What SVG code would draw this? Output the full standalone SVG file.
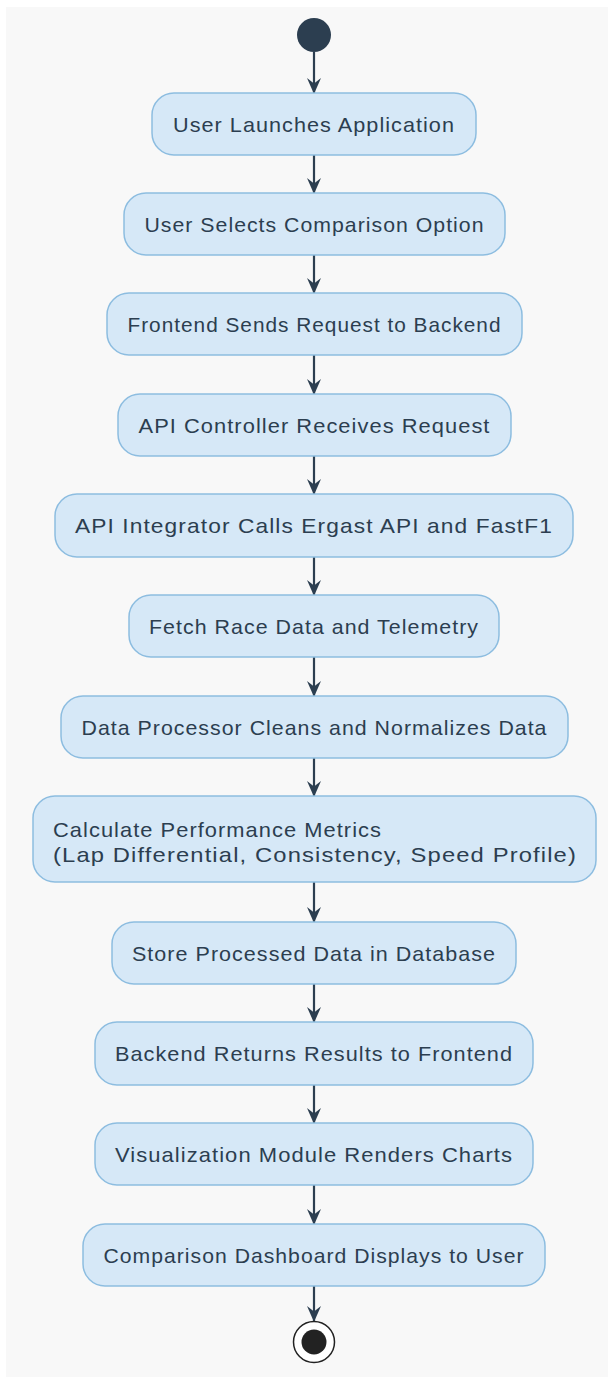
<svg xmlns="http://www.w3.org/2000/svg" width="615" height="1378" viewBox="0 0 615 1378">
  <style>
    .panel { fill: #f8f8f8; }
    .act rect { fill: #d6e8f7; stroke: #8dbde0; stroke-width: 1.5; }
    .act text { font-family: "Liberation Sans", Arial, sans-serif; font-size: 21px; letter-spacing: 1px; fill: #2c3e50; text-anchor: middle; }
    .act text.left { text-anchor: start; }
    .edge { stroke: #2c3e50; stroke-width: 2.2; fill: none; marker-end: url(#arrow); }
  </style>
  <defs>
    <!-- barbed arrowhead, drawn pointing along +x so orient="auto" turns it with the line -->
    <marker id="arrow" viewBox="0 0 16 14" refX="15" refY="7" markerWidth="16" markerHeight="14" markerUnits="userSpaceOnUse" orient="auto">
      <path d="M0,0 L5.5,7 L0,14 L16,7 Z" fill="#2c3e50"/>
    </marker>
  </defs>

  <rect class="panel" x="6" y="7" width="602" height="1370"/>

  <!-- flow connectors -->
  <g id="connectors">
    <line class="edge" x1="314" y1="52" x2="314" y2="93"/>
    <line class="edge" x1="314" y1="155" x2="314" y2="193"/>
    <line class="edge" x1="314" y1="255" x2="314" y2="293"/>
    <line class="edge" x1="314" y1="355" x2="314" y2="394"/>
    <line class="edge" x1="314" y1="456" x2="314" y2="494"/>
    <line class="edge" x1="314" y1="557" x2="314" y2="595"/>
    <line class="edge" x1="314" y1="657" x2="314" y2="696"/>
    <line class="edge" x1="314" y1="758" x2="314" y2="796"/>
    <line class="edge" x1="314" y1="882" x2="314" y2="922"/>
    <line class="edge" x1="314" y1="984" x2="314" y2="1022"/>
    <line class="edge" x1="314" y1="1085" x2="314" y2="1123"/>
    <line class="edge" x1="314" y1="1185" x2="314" y2="1224"/>
    <line class="edge" x1="314" y1="1286" x2="314" y2="1321"/>
  </g>

  <g id="start">
    <circle cx="314" cy="35" r="17" fill="#2c3e50"/>
  </g>

  <g id="n1" class="act">
    <rect x="152" y="93" width="324" height="62" rx="22"/>
    <text x="314" y="132" textLength="282" lengthAdjust="spacingAndGlyphs">User Launches Application</text>
  </g>
  <g id="n2" class="act">
    <rect x="124" y="193" width="381" height="62" rx="22"/>
    <text x="314.5" y="232" textLength="340" lengthAdjust="spacingAndGlyphs">User Selects Comparison Option</text>
  </g>
  <g id="n3" class="act">
    <rect x="107" y="293" width="415" height="62" rx="22"/>
    <text x="314.5" y="332" textLength="374" lengthAdjust="spacingAndGlyphs">Frontend Sends Request to Backend</text>
  </g>
  <g id="n4" class="act">
    <rect x="118" y="394" width="393" height="62" rx="22"/>
    <text x="314.5" y="433" textLength="352" lengthAdjust="spacingAndGlyphs">API Controller Receives Request</text>
  </g>
  <g id="n5" class="act">
    <rect x="55" y="494" width="518" height="63" rx="22"/>
    <text x="314" y="533" textLength="478" lengthAdjust="spacingAndGlyphs">API Integrator Calls Ergast API and FastF1</text>
  </g>
  <g id="n6" class="act">
    <rect x="129" y="595" width="370" height="62" rx="22"/>
    <text x="314" y="634" textLength="330" lengthAdjust="spacingAndGlyphs">Fetch Race Data and Telemetry</text>
  </g>
  <g id="n7" class="act">
    <rect x="61" y="696" width="507" height="62" rx="22"/>
    <text x="314.5" y="735" textLength="466" lengthAdjust="spacingAndGlyphs">Data Processor Cleans and Normalizes Data</text>
  </g>
  <g id="n8" class="act">
    <rect x="33" y="796" width="563" height="86" rx="22"/>
    <text class="left" x="53" y="837" textLength="329" lengthAdjust="spacingAndGlyphs">Calculate Performance Metrics</text>
    <text class="left" x="53" y="862" textLength="524" lengthAdjust="spacingAndGlyphs">(Lap Differential, Consistency, Speed Profile)</text>
  </g>
  <g id="n9" class="act">
    <rect x="112" y="922" width="404" height="62" rx="22"/>
    <text x="314" y="961" textLength="364" lengthAdjust="spacingAndGlyphs">Store Processed Data in Database</text>
  </g>
  <g id="n10" class="act">
    <rect x="95" y="1022" width="438" height="63" rx="22"/>
    <text x="314" y="1061" textLength="398" lengthAdjust="spacingAndGlyphs">Backend Returns Results to Frontend</text>
  </g>
  <g id="n11" class="act">
    <rect x="95" y="1123" width="438" height="62" rx="22"/>
    <text x="314" y="1162" textLength="398" lengthAdjust="spacingAndGlyphs">Visualization Module Renders Charts</text>
  </g>
  <g id="n12" class="act">
    <rect x="83" y="1224" width="462" height="62" rx="22"/>
    <text x="314" y="1263" textLength="421" lengthAdjust="spacingAndGlyphs">Comparison Dashboard Displays to User</text>
  </g>

  <g id="end">
    <circle cx="314" cy="1342" r="20.5" fill="#ffffff" stroke="#222222" stroke-width="1.5"/>
    <circle cx="314" cy="1342" r="12.5" fill="#222222"/>
  </g>
</svg>
